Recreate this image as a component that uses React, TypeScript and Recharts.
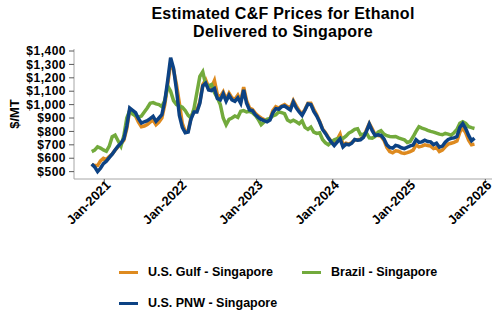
import React from 'react';
import { LineChart, Line, XAxis, YAxis } from 'recharts';

const DAY = 86400000;
const startDate = Date.UTC(2020, 10, 2);
const stepDays = 14;

const gulf = [
  552, 545, 545, 580, 600, 590, 612, 632, 660, 685, 708, 735, 820, 960, 940, 915, 870, 835, 840, 852,
  870, 885, 850, 870, 900, 1000, 1150, 1310, 1260, 1150, 1010, 860, 800, 805, 905, 960, 960, 1020, 1150, 1185,
  1130, 1130, 1180, 1075, 1060, 1095, 1040, 1085, 1050, 1040, 1070, 1025, 1130, 1030, 975, 965, 935, 915, 900, 888,
  880, 892, 955, 985, 975, 990, 1000, 985, 975, 1030, 990, 955, 930, 965, 1010, 1010, 965, 925, 875, 820,
  790, 755, 725, 705, 740, 780, 700, 712, 705, 718, 735, 738, 742, 760, 810, 860, 820, 775, 770, 765,
  735, 680, 650, 640, 655, 652, 640, 635, 642, 650, 660, 700, 685, 690, 700, 695, 690, 672, 680, 650,
  660, 685, 705, 712, 718, 728, 795, 825, 790, 735, 700, 705,
];

const brazil = [
  649, 660, 685, 676, 662, 652, 690, 760, 772, 730, 690, 770, 900, 955, 930, 918, 905, 915, 945, 975,
  1010, 1015, 1005, 1000, 985, 1030, 1140, 1100, 1030, 1000, 990, 980, 955, 920, 900, 970, 1090, 1210, 1245, 1150,
  1140, 1150, 1090, 1050, 1000, 900, 850, 890, 900, 915, 905, 950, 955, 945, 950, 940, 920, 890, 850, 870,
  890, 897, 915, 925, 945, 940, 932, 885, 872, 884, 872, 858, 880, 830, 815, 832, 795, 785, 790, 740,
  715, 700, 720, 738, 745, 750, 748, 765, 788, 800, 815, 820, 775, 780, 790, 752, 750, 762, 795, 805,
  780, 768, 762, 760, 762, 752, 745, 738, 718, 725, 760, 800, 835, 825, 818, 808, 800, 795, 788, 780,
  775, 785, 780, 772, 790, 815, 860, 872, 860, 835, 828, 822,
];

const pnw = [
  557, 535, 500, 525, 560, 578, 605, 630, 662, 690, 712, 745, 840, 975, 958, 940, 895, 862, 872, 880,
  895, 912, 875, 900, 925, 1025, 1180, 1350, 1270, 1110, 920, 830, 790, 795, 895, 945, 945, 1010, 1140, 1160,
  1110, 1105, 1120, 1045, 1035, 1080, 1025, 1070, 1035, 1025, 1050, 1010, 1110, 1010, 960, 955, 925, 905, 890, 880,
  872, 885, 940, 970, 965, 985, 990, 975, 960, 1020, 975, 945, 920, 960, 1005, 1000, 950, 915, 870, 815,
  785, 750, 720, 695, 720, 745, 685, 705, 700, 712, 740, 735, 738, 755, 800, 855, 805, 770, 775, 770,
  745, 700, 680, 675, 695, 690, 678, 672, 682, 692, 698, 738, 718, 722, 735, 725, 722, 702, 712, 682,
  690, 720, 740, 748, 752, 762, 830, 858, 822, 770, 730, 750,
];

const yTicks = [500, 600, 700, 800, 900, 1000, 1100, 1200, 1300, 1400];
const xTickYears = [2021, 2022, 2023, 2024, 2025, 2026];
const seriesNames = ['U.S. Gulf - Singapore', 'Brazil - Singapore', 'U.S. PNW - Singapore'];
const colors = { gulf: '#DE8A1F', brazil: '#72AA3C', pnw: '#0C4284' };

const data = pnw.map((_, i) => ({
  t: startDate + i * stepDays * DAY,
  gulf: gulf[i],
  brazil: brazil[i],
  pnw: pnw[i],
}));

const xTicks = xTickYears.map((y) => Date.UTC(y, 0, 1));
const FONT = '"Liberation Sans", Arial, sans-serif';

const XTick = (props: any) => {
  const { x, y, payload } = props;
  const d = new Date(payload.value);
  const label = `Jan-${d.getUTCFullYear()}`;
  return (
    <g transform={`translate(${x + 7},${y + 3})`}>
      <text
        textAnchor="end"
        transform="rotate(-45)"
        fontSize={13}
        fontWeight="bold"
        fill="#000"
        fontFamily={FONT}
      >
        {label}
      </text>
    </g>
  );
};

const fmtY = (v: number) => `$${v.toLocaleString('en-US')}`;

const LegendItem = ({ color, label, left, top }: any) => (
  <div style={{ position: 'absolute', left, top, display: 'flex', alignItems: 'center', height: 16 }}>
    <div style={{ width: 19, height: 3, background: color }} />
    <span style={{ marginLeft: 10, fontSize: 12.5, fontWeight: 'bold', color: '#000', whiteSpace: 'nowrap' }}>
      {label}
    </span>
  </div>
);

export default function App() {
  return (
    <div style={{ position: 'relative', width: 500, height: 330, background: '#fff', fontFamily: FONT }}>
      <style>{'body{margin:0}'}</style>
      <div
        style={{
          position: 'absolute',
          left: 74,
          width: 418,
          top: 5,
          textAlign: 'center',
          fontSize: 16,
          fontWeight: 'bold',
          lineHeight: '17.5px',
          letterSpacing: 0.25,
          color: '#000',
        }}
      >
        Estimated C&amp;F Prices for Ethanol
        <br />
        Delivered to Singapore
      </div>
      <LineChart
        width={500}
        height={330}
        data={data}
        margin={{ top: 49, right: 8, left: 0, bottom: 0 }}
      >
        <XAxis
          dataKey="t"
          type="number"
          scale="time"
          domain={[Date.UTC(2020, 7, 9), Date.UTC(2026, 1, 2)]}
          ticks={xTicks}
          tick={<XTick />}
          tickSize={4}
          tickMargin={0}
          height={151}
          stroke="#A6A6A6"
          tickLine={{ stroke: '#595959' }}
          interval={0}
          allowDataOverflow
        />
        <YAxis
          type="number"
          domain={[445, 1415]}
          ticks={yTicks}
          tickFormatter={fmtY}
          width={74}
          tickSize={5}
          tickMargin={3}
          interval={0}
          stroke="#A6A6A6"
          tickLine={{ stroke: '#595959' }}
          tick={{ fontSize: 12, fontWeight: 'bold', fill: '#000', fontFamily: FONT, letterSpacing: 0.5 }}
          allowDataOverflow
        />
        <Line type="linear" dataKey="gulf" stroke={colors.gulf} strokeWidth={3.5} dot={false} isAnimationActive={false} />
        <Line type="linear" dataKey="brazil" stroke={colors.brazil} strokeWidth={3.5} dot={false} isAnimationActive={false} />
        <Line type="linear" dataKey="pnw" stroke={colors.pnw} strokeWidth={3.5} dot={false} isAnimationActive={false} />
        <text
          x={14}
          y={114}
          transform="rotate(-90, 14, 114)"
          textAnchor="middle"
          dominantBaseline="central"
          fontSize={13}
          fontWeight="bold"
          fill="#000"
          fontFamily={FONT}
        >
          $/MT
        </text>
      </LineChart>
      <LegendItem color={colors.gulf} label={seriesNames[0]} left={119} top={264} />
      <LegendItem color={colors.brazil} label={seriesNames[1]} left={302} top={264} />
      <LegendItem color={colors.pnw} label={seriesNames[2]} left={119} top={295} />
    </div>
  );
}
